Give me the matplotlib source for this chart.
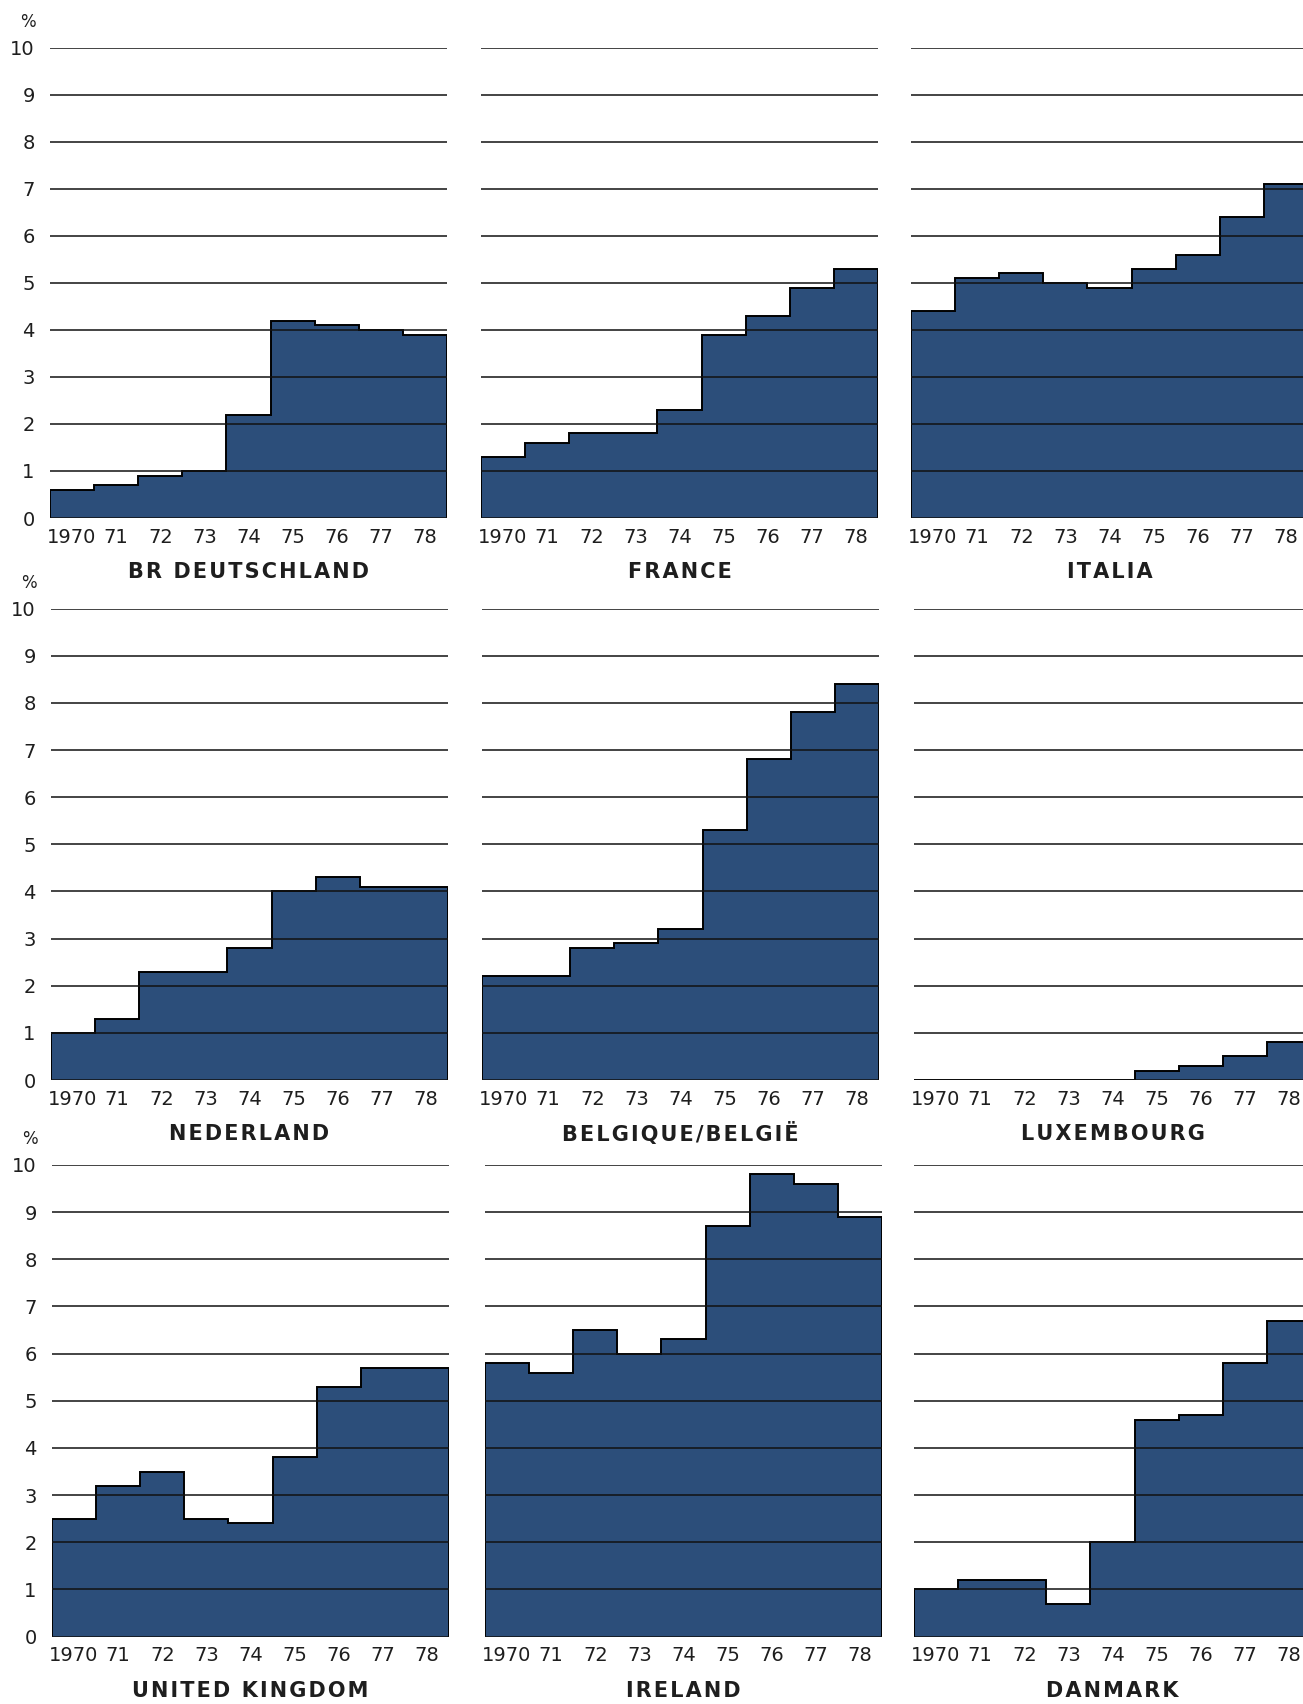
import numpy as np
import matplotlib as mpl
import matplotlib.pyplot as plt

mpl.rcParams['font.family'] = 'DejaVu Sans'

years = ['1970', '71', '72', '73', '74', '75', '76', '77', '78']

countries = ['BR DEUTSCHLAND', 'FRANCE', 'ITALIA',
             'NEDERLAND', 'BELGIQUE/BELGIË', 'LUXEMBOURG',
             'UNITED KINGDOM', 'IRELAND', 'DANMARK']

deutschland = [0.6, 0.7, 0.9, 1.0, 2.2, 4.2, 4.1, 4.0, 3.9]
france = [1.3, 1.6, 1.8, 1.8, 2.3, 3.9, 4.3, 4.9, 5.3]
italia = [4.4, 5.1, 5.2, 5.0, 4.9, 5.3, 5.6, 6.4, 7.1]
nederland = [1.0, 1.3, 2.3, 2.3, 2.8, 4.0, 4.3, 4.1, 4.1]
belgique = [2.2, 2.2, 2.8, 2.9, 3.2, 5.3, 6.8, 7.8, 8.4]
luxembourg = [0.0, 0.0, 0.0, 0.0, 0.0, 0.2, 0.3, 0.5, 0.8]
united_kingdom = [2.5, 3.2, 3.5, 2.5, 2.4, 3.8, 5.3, 5.7, 5.7]
ireland = [5.8, 5.6, 6.5, 6.0, 6.3, 8.7, 9.8, 9.6, 8.9]
danmark = [1.0, 1.2, 1.2, 0.7, 2.0, 4.6, 4.7, 5.8, 6.7]

series = [deutschland, france, italia,
          nederland, belgique, luxembourg,
          united_kingdom, ireland, danmark]

yticks = list(range(0, 11))

# layout in pixels of the 1303x1704 page
W, H = 1303, 1704
row_top = [47.8, 608.6, 1165.0]
row_bot = [518.0, 1080.0, 1636.6]
col_left = [[50, 481, 911], [51, 482, 914], [52, 485, 914]]
col_w = 397

fill_col = '#2c4e7a'
text_col = '#1e1e1e'


def spaced(s):
    # mimic the wide letter spacing of the printed captions
    return '\u200a'.join(s)


fig = plt.figure(figsize=(W / 100, H / 100), dpi=100)
fig.patch.set_facecolor('white')

for i, name in enumerate(countries):
    r, c = divmod(i, 3)
    top, bot = row_top[r], row_bot[r]
    left = col_left[r][c]
    ax = fig.add_axes([left / W, 1 - bot / H, col_w / W, (bot - top) / H])
    vals = series[i]
    edges = np.arange(len(vals) + 1)
    ax.stairs(vals, edges, fill=True, facecolor=fill_col,
              edgecolor='black', linewidth=1.4, zorder=2)
    for t in yticks:
        ax.axhline(t, color='#111111', linewidth=1.1, zorder=3)

    ax.set_xlim(0, len(vals))
    ax.set_ylim(0, 10)
    for s in ax.spines.values():
        s.set_visible(False)
    ax.set_facecolor('none')

    ax.set_xticks(edges[:-1] + 0.5)
    ax.set_xticklabels(years, fontsize=14, color=text_col)
    ax.tick_params(axis='x', length=0, pad=7)
    # first label sits a little left of its bin, as printed
    ax.get_xticklabels()[0].set_x(0.4)

    if c == 0:
        ax.set_yticks(yticks)
        ax.set_yticklabels([str(t) for t in yticks], fontsize=14, color=text_col)
        ax.tick_params(axis='y', length=0, pad=11)
        ax.text(-0.056, 1 + 26 / (bot - top), '%', transform=ax.transAxes,
                ha='center', va='center', fontsize=12, color=text_col)
    else:
        ax.set_yticks([])

    ax.text(0.5, -54 / (bot - top), spaced(name), transform=ax.transAxes,
            ha='center', va='center', fontsize=15, fontweight='bold',
            color=text_col)

plt.savefig('out.png', dpi=100)
